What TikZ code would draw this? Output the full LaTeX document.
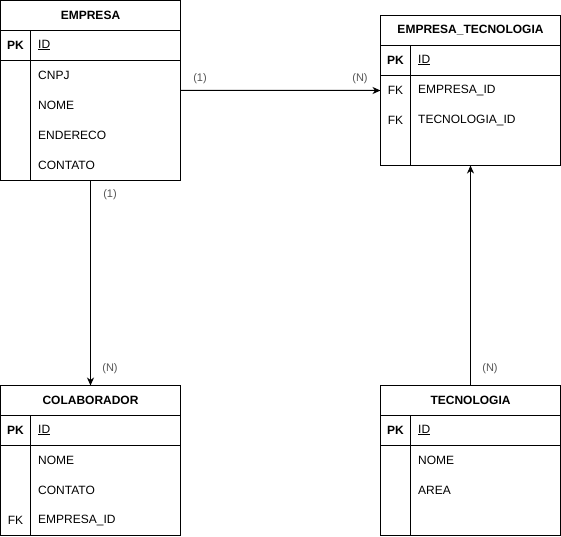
\documentclass[tikz,border=0pt]{standalone}
\usepackage{fontspec}
\setmainfont{Liberation Sans}
\usetikzlibrary{arrows.meta}
\definecolor{lbl}{HTML}{555555}
\begin{document}
\begin{tikzpicture}[x=1pt,y=-1pt,
  tbl/.style={draw, line width=1pt, anchor=north west, minimum width=180pt, inner sep=0pt, outer sep=0pt},
  sep/.style={line width=1pt},
  ttl/.style={font=\fontsize{12}{14}\selectfont\bfseries, inner sep=0pt},
  cell/.style={font=\fontsize{12}{14}\selectfont, inner sep=0pt, anchor=west},
  key/.style={font=\fontsize{12}{14}\selectfont, inner sep=0pt},
  pkey/.style={font=\fontsize{12}{14}\selectfont\bfseries, inner sep=0pt},
  card/.style={font=\fontsize{11}{13}\selectfont, text=lbl, inner sep=0pt},
  rel/.style={line width=1pt, -{Stealth[length=8pt,width=7pt,inset=2.5pt]}}]
\useasboundingbox[fill=white] (0,0) rectangle (561,536);

% EMPRESA
\node[tbl, minimum height=179.5pt] (empresa) at (0.5,0.5) {};
\draw[sep] (0.5,30.5) -- (180.5,30.5) (0.5,60.5) -- (180.5,60.5) (30.5,30.5) -- (30.5,180);
\node[ttl] (empresaT) at (90.5,15.5) {EMPRESA};
\node[pkey] (empresaPK) at (15.5,45) {PK};
\node[cell] (empresaID) at (38,45) {\underline{ID}};
\node[cell] (empresa1) at (38,75) {CNPJ};
\node[cell] (empresa2) at (38,105) {NOME};
\node[cell] (empresa3) at (38,135) {ENDERECO};
\node[cell] (empresa4) at (38,165) {CONTATO};

% EMPRESA_TECNOLOGIA
\node[tbl, minimum height=150pt] (et) at (380.5,15.5) {};
\draw[sep] (380.5,45.5) -- (560.5,45.5) (380.5,75.5) -- (560.5,75.5) (410.5,45.5) -- (410.5,165.5);
\node[ttl] (etT) at (470.5,30.5) {EMPRESA\_TECNOLOGIA};
\node[pkey] (etPK) at (395.5,60) {PK};
\node[cell] (etID) at (418,60) {\underline{ID}};
\node[key] (etFK1) at (395.5,90) {FK};
\node[cell] (et1) at (418,90) {EMPRESA\_ID};
\node[key] (etFK2) at (395.5,120) {FK};
\node[cell] (et2) at (418,120) {TECNOLOGIA\_ID};

% COLABORADOR
\node[tbl, minimum height=150pt] (colab) at (0.5,385.5) {};
\draw[sep] (0.5,415.5) -- (180.5,415.5) (0.5,445.5) -- (180.5,445.5) (30.5,415.5) -- (30.5,535.5);
\node[ttl] (colabT) at (90.5,400.5) {COLABORADOR};
\node[pkey] (colabPK) at (15.5,430) {PK};
\node[cell] (colabID) at (38,430) {\underline{ID}};
\node[cell] (colab1) at (38,460) {NOME};
\node[cell] (colab2) at (38,490) {CONTATO};
\node[key] (colabFK) at (15.5,520) {FK};
\node[cell] (colab3) at (38,520) {EMPRESA\_ID};

% TECNOLOGIA
\node[tbl, minimum height=150pt] (tec) at (380.5,385.5) {};
\draw[sep] (380.5,415.5) -- (560.5,415.5) (380.5,445.5) -- (560.5,445.5) (410.5,415.5) -- (410.5,535.5);
\node[ttl] (tecT) at (470.5,400.5) {TECNOLOGIA};
\node[pkey] (tecPK) at (395.5,430) {PK};
\node[cell] (tecID) at (418,430) {\underline{ID}};
\node[cell] (tec1) at (418,460) {NOME};
\node[cell] (tec2) at (418,490) {AREA};

% relationships
\draw[rel] (empresa.east) -- (et.west);
\draw[rel] (empresa.south) -- (colab.north);
\draw[rel] (tec.north) -- (et.south);

% cardinalities
\node[card] (c1) at (200,79) {(1)};
\node[card] (c2) at (360,79) {(N)};
\node[card] (c3) at (110,195) {(1)};
\node[card] (c4) at (110,369) {(N)};
\node[card] (c5) at (490,369) {(N)};
\end{tikzpicture}
\end{document}
